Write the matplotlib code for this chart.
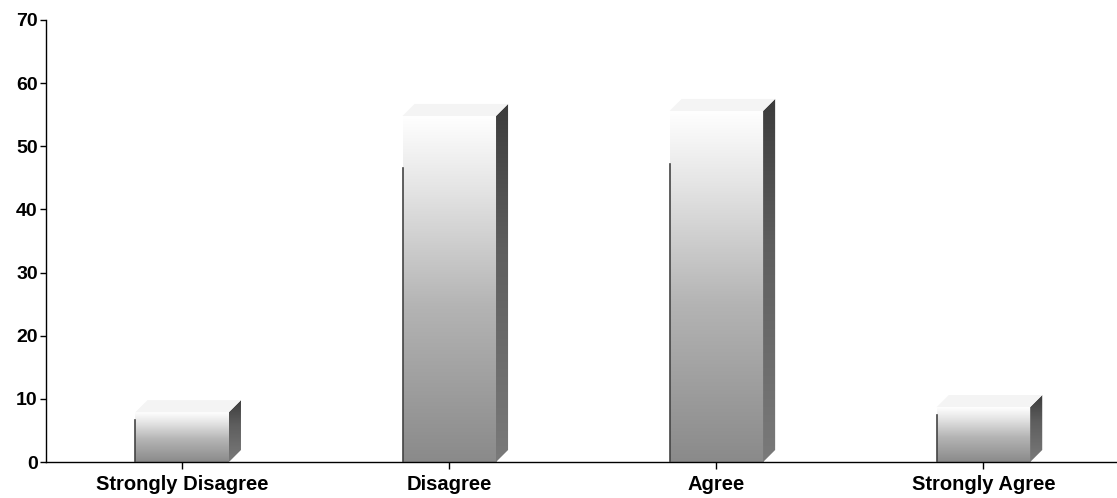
import numpy as np
import matplotlib.pyplot as plt
from matplotlib.patches import Polygon
from matplotlib.colors import LinearSegmentedColormap

categories = ['Strongly Disagree', 'Disagree', 'Agree', 'Strongly Agree']
values = [7.9, 54.8, 55.6, 8.7]
y_ticks = [0, 10, 20, 30, 40, 50, 60, 70]

fig = plt.figure(figsize=(11.17, 4.98), dpi=100)
ax = fig.add_axes([46 / 1117, 36 / 498, 1 - 46 / 1117, 442 / 498])

x = np.arange(len(categories))
width = 0.35
dx, dy = 0.045, 1.9   # depth of the 3d effect in data units

front_cmap = LinearSegmentedColormap.from_list(
    'front', [(0.0, '#8a8a8a'), (0.45, '#b4b4b4'), (0.8, '#e6e6e6'), (1.0, '#ffffff')])
side_cmap = LinearSegmentedColormap.from_list(
    'side', [(0.0, '#7a7a7a'), (0.6, '#5e5e5e'), (1.0, '#3c3c3c')])

bars = ax.bar(x, values, width, color='none', edgecolor='none', zorder=2)

grad = np.linspace(0, 1, 256).reshape(-1, 1)
for rect, v in zip(bars, values):
    x0 = rect.get_x()
    x1 = x0 + rect.get_width()
    im = ax.imshow(grad, cmap=front_cmap, vmin=0, vmax=1, aspect='auto',
                   extent=(x0, x1, 0, v), origin='lower', zorder=2)
    im.set_clip_path(rect)
    ax.plot([x0, x0], [0, v * 0.85], color='#444444', lw=1.2, zorder=3)

    # side face
    side = Polygon([(x1, 0), (x1 + dx, dy), (x1 + dx, v + dy), (x1, v)],
                   closed=True, facecolor='none', edgecolor='none')
    ax.add_patch(side)
    im2 = ax.imshow(grad, cmap=side_cmap, vmin=0, vmax=1, aspect='auto',
                    extent=(x1, x1 + dx, 0, v + dy), origin='lower', zorder=3)
    im2.set_clip_path(side)

    # top face
    top = Polygon([(x0, v), (x0 + dx, v + dy), (x1 + dx, v + dy), (x1, v)],
                  closed=True, facecolor='#f4f4f4', edgecolor='none', zorder=3)
    ax.add_patch(top)

ax.set_xlim(-0.51, 3.5)
ax.set_ylim(0, 70)
ax.set_yticks(y_ticks)
ax.set_xticks(x)
ax.set_xticklabels(categories)

for s in ['top', 'right']:
    ax.spines[s].set_visible(False)
for s in ['left', 'bottom']:
    ax.spines[s].set_linewidth(1.0)
    ax.spines[s].set_color('black')

ax.tick_params(axis='y', direction='out', length=4, width=1, pad=2)
ax.tick_params(axis='x', direction='out', length=5, width=1, pad=4)
for lab in ax.get_yticklabels():
    lab.set_fontfamily(['Liberation Sans', 'DejaVu Sans'])
    lab.set_fontweight('bold')
    lab.set_fontsize(14)
for lab in ax.get_xticklabels():
    lab.set_fontfamily(['Liberation Sans', 'DejaVu Sans'])
    lab.set_fontweight('bold')
    lab.set_fontsize(14.5)

fig.savefig('out.png', dpi=100)
